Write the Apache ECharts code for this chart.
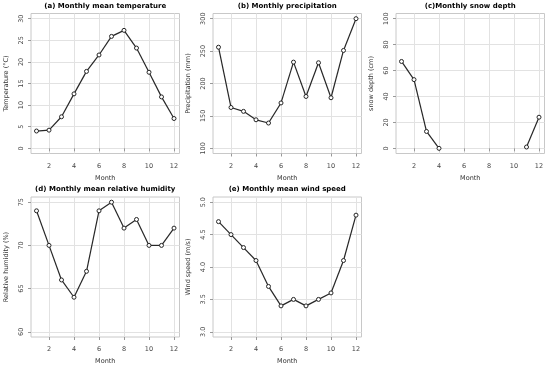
<!DOCTYPE html>
<html>
<head>
<meta charset="utf-8">
<script src="https://cdn.jsdelivr.net/npm/echarts@6/dist/echarts.min.js"></script>
<style>
html,body{margin:0;padding:0;background:#fff;}
#chart{width:550px;height:366px;}
</style>
</head>
<body>
<div id="chart"></div>
<script>
const months = [1,2,3,4,5,6,7,8,9,10,11,12];
const temperature = [4.0,4.2,7.3,12.6,17.8,21.6,25.9,27.3,23.2,17.6,11.9,6.9];
const precipitation = [256,163,157,144,139,170,233,180,232,178,251,300];
const snowDepth = [67,53,13,0,null,null,null,null,null,null,1,24];
const humidity = [74,70,66,64,67,74,75,72,73,70,70,72];
const windSpeed = [4.7,4.5,4.3,4.1,3.7,3.4,3.5,3.4,3.5,3.6,4.1,4.8];

const xTicks = [2,4,6,8,10,12];
const tempTicks = [0,5,10,15,20,25,30];
const precipTicks = [100,150,200,250,300];
const snowTicks = [0,20,40,60,80,100];
const humidTicks = [60,65,70,75];
const windTicks = [3.0,3.5,4.0,4.5,5.0];

const titles = ['(a) Monthly mean temperature','(b) Monthly precipitation','(c)Monthly snow depth','(d) Monthly mean relative humidity','(e) Monthly mean wind speed'];
const yNames = ['Temperature (°C)','Precipitation (mm)','snow depth (cm)','Relative humidity (%)','Wind speed (m/s)'];
const xName = 'Month';

const panels = [
  {vals: temperature, ticks: tempTicks, dec: 0, left: 31, top: 13.5},
  {vals: precipitation, ticks: precipTicks, dec: 0, left: 213, top: 13.5},
  {vals: snowDepth, ticks: snowTicks, dec: 0, left: 396, top: 13.5},
  {vals: humidity, ticks: humidTicks, dec: 0, left: 31, top: 197},
  {vals: windSpeed, ticks: windTicks, dec: 1, left: 213, top: 197}
];
const W = 148.5, H = 140;
const font = 'DejaVu Sans';
const lineColor = '#262626';
const grids = [], xAxes = [], yAxes = [], series = [], titleArr = [];

panels.forEach((p, i) => {
  grids.push({left: p.left, top: p.top, width: W, height: H, show: true, borderColor: '#c8c8c8', borderWidth: 1});
  titleArr.push({
    text: titles[i], left: p.left + W/2, top: p.top - 11, textAlign: 'center', padding: 0,
    textStyle: {fontFamily: font, fontSize: 7, fontWeight: 'bold', color: '#000'}
  });
  const xr = months[months.length-1] - months[0];
  xAxes.push({
    type: 'value', gridIndex: i,
    min: months[0] - 0.04*xr, max: months[months.length-1] + 0.04*xr,
    name: xName, nameLocation: 'middle', nameGap: 21,
    nameTextStyle: {fontFamily: font, fontSize: 6.5, color: '#333'},
    axisLine: {show: false},
    axisTick: {show: true, inside: false, length: 3, customValues: xTicks, lineStyle: {color: '#999'}},
    axisLabel: {customValues: xTicks, fontFamily: font, fontSize: 6.5, color: '#444', margin: 9},
    splitLine: {show: true, lineStyle: {color: '#e2e2e2', width: 1}}
  });
  const t = p.ticks, yr = t[t.length-1] - t[0];
  yAxes.push({
    type: 'value', gridIndex: i,
    min: t[0] - 0.04*yr, max: t[t.length-1] + 0.04*yr,
    name: yNames[i], nameLocation: 'middle', nameGap: 21, nameRotate: 90,
    nameTextStyle: {fontFamily: font, fontSize: 6.5, color: '#333'},
    axisLine: {show: false},
    axisTick: {show: true, inside: false, length: 3, customValues: t, lineStyle: {color: '#999'}},
    axisLabel: {customValues: t, rotate: 90, fontFamily: font, fontSize: 6.5, color: '#444', margin: 6,
      formatter: v => v.toFixed(p.dec)},
    splitLine: {show: true, lineStyle: {color: '#e2e2e2', width: 1}}
  });
  const vals = p.vals;
  series.push({
    type: 'custom', xAxisIndex: i, yAxisIndex: i, z: 2,
    data: months.map((m, k) => [m, vals[k]]),
    renderItem: function (params, api) {
      const k = params.dataIndex;
      if (k >= months.length - 1 || vals[k] == null || vals[k+1] == null) return null;
      const a = api.coord([months[k], vals[k]]);
      const b = api.coord([months[k+1], vals[k+1]]);
      return {
        type: 'line',
        shape: {x1: a[0], y1: a[1], x2: b[0], y2: b[1]},
        style: {stroke: lineColor, lineWidth: 1.2}
      };
    },
    silent: true, animation: false
  });
  series.push({
    type: 'scatter', xAxisIndex: i, yAxisIndex: i, z: 3,
    data: months.map((m, k) => [m, vals[k]]),
    symbol: 'circle', symbolSize: 4,
    itemStyle: {color: '#ffffff', borderColor: lineColor, borderWidth: 1, opacity: 1},
    silent: true, animation: false
  });
});

const chart = echarts.init(document.getElementById('chart'));
chart.setOption({
  backgroundColor: '#fff',
  animation: false,
  title: titleArr,
  grid: grids,
  xAxis: xAxes,
  yAxis: yAxes,
  series: series
});
</script>
</body>
</html>
